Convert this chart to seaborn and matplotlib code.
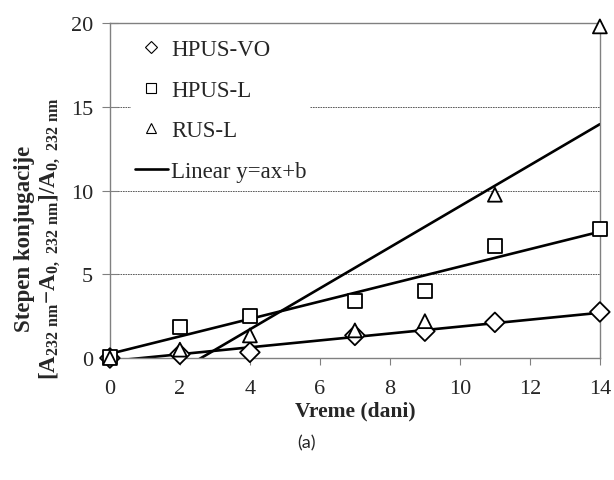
import numpy as np
import pandas as pd
import matplotlib
matplotlib.use("Agg")
import matplotlib.pyplot as plt
from matplotlib.lines import Line2D
import seaborn as sns

# data
days = [0, 2, 4, 7, 9, 11, 14]
hpus_vo = [0.0, 0.22, 0.34, 1.35, 1.6, 2.13, 2.75]
hpus_l = [0.05, 1.87, 2.53, 3.4, 3.98, 6.7, 7.7]
rus_l = [0.0, 0.5, 1.35, 1.65, 2.2, 9.75, 19.8]
series = ["HPUS-VO", "HPUS-L", "RUS-L"]
markers = {"HPUS-VO": "D", "HPUS-L": "s", "RUS-L": "^"}

df = pd.DataFrame({
    "dani": days * 3,
    "val": hpus_vo + hpus_l + rus_l,
    "serija": [s for s in series for _ in days],
})

sns.set_style("ticks")
plt.rcParams["font.family"] = ["Liberation Serif", "DejaVu Serif"]
plt.rcParams["mathtext.fontset"] = "custom"
plt.rcParams["mathtext.rm"] = "Liberation Serif:bold"
plt.rcParams["mathtext.bf"] = "Liberation Serif:bold"
plt.rcParams["mathtext.default"] = "bf"

fig = plt.figure(figsize=(6.14, 4.81), dpi=100)
ax = fig.add_axes([0.179, 0.2536, 0.798, 0.6964])
ax.set_xlim(0, 14)
ax.set_ylim(0, 20)

# linear fits
for s in series:
    sub = df[df["serija"] == s]
    sns.regplot(data=sub, x="dani", y="val", ax=ax, scatter=False, ci=None,
                truncate=False, color="black", line_kws={"lw": 1.9}, label=None)

sns.scatterplot(data=df, x="dani", y="val", style="serija", markers=markers,
                s=100, facecolor="white", edgecolor="black", linewidth=1.3,
                ax=ax, legend=False, zorder=5, clip_on=False)

ax.set_xlim(0, 14)
ax.set_ylim(0, 20)
ax.set_xticks(range(0, 15, 2))
ax.set_yticks(range(0, 21, 5))
for yv in [5, 10, 15]:
    ax.axhline(yv, color="#444444", lw=0.6, ls=(0, (2, 1)), zorder=0)

for sp in ax.spines.values():
    sp.set_color("#808080")
    sp.set_linewidth(1.0)
ax.tick_params(axis="x", direction="out", length=5, color="#808080", labelsize=16, pad=10)
ax.tick_params(axis="y", direction="inout", length=12, color="#808080", labelsize=16, pad=6)

ax.set_xlabel("Vreme (dani)", fontsize=15.5, fontweight="bold", labelpad=2)
ax.set_ylabel("Stepen konjugacije\n"
              r"[A$_{232\ nm}$$-$A$_{0,\ 232\ nm}$]/A$_{0,\ 232\ nm}$",
              fontsize=16.5, fontweight="bold", linespacing=1.2)
ax.yaxis.set_label_coords(-0.098, 0.36)

handles = [
    Line2D([], [], ls="none", marker="D", ms=6, mfc="white", mec="black", mew=0.8),
    Line2D([], [], ls="none", marker="s", ms=7, mfc="white", mec="black", mew=0.8),
    Line2D([], [], ls="none", marker="^", ms=7, mfc="white", mec="black", mew=0.8),
    Line2D([], [], color="black", lw=1.9),
]
labels = ["HPUS-VO", "HPUS-L", "RUS-L", "Linear y=ax+b"]
leg = ax.legend(handles, labels, loc="upper left", bbox_to_anchor=(0.02, 0.997),
                frameon=True, framealpha=1, edgecolor="white", fancybox=False,
                fontsize=16.5, labelspacing=0.86, handlelength=1.45,
                handletextpad=0.15, borderpad=0.15)
leg.get_frame().set_linewidth(0)

fig.text(0.5, 0.078, "(a)", ha="center", va="center", fontsize=13,
         family=["Lato", "DejaVu Sans"])

fig.savefig("out.png", dpi=100)
